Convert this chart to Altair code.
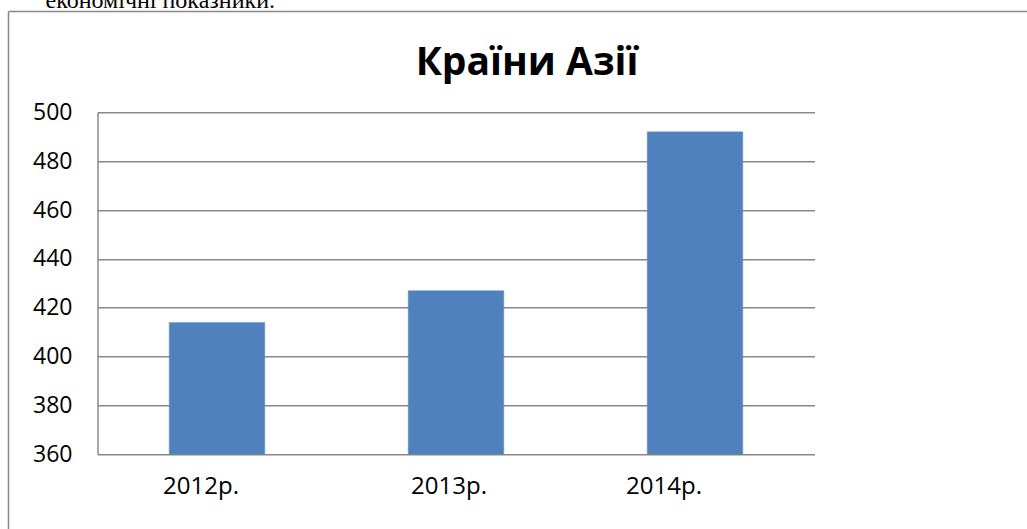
import altair as alt
import pandas as pd

years = ["2012р.", "2013р.", "2014р."]
values = [414, 427, 492]
title_text = "Країни Азії"
y_ticks = [360, 380, 400, 420, 440, 460, 480, 500]

df = pd.DataFrame({"year": years, "value": values})

W = 717
H = 342
PL = 97.5
PT = 112.3

label_offset = {
    "condition": [
        {"test": "datum.value == '2012р.'", "value": -16},
        {"test": "datum.value == '2013р.'", "value": -7},
    ],
    "value": -31,
}

bars = alt.Chart(df).mark_bar(color="#4F81BD", stroke="#6A93C8", strokeWidth=0.5, clip=True).encode(
    x=alt.X("year:N", sort=years, title=None,
            scale=alt.Scale(paddingInner=0.6, paddingOuter=0.3),
            axis=alt.Axis(labelAngle=0, labelFontSize=24, labelFont="Open Sans",
                          labelColor="#000000", ticks=False, domain=False,
                          labelPadding=20, labelOffset=label_offset)),
    y=alt.Y("value:Q", title=None,
            scale=alt.Scale(domain=[360, 500], nice=False, zero=False),
            axis=alt.Axis(values=y_ticks, labelFontSize=23, labelFont="Open Sans",
                          labelColor="#000000", ticks=False, domain=True,
                          domainColor="#888888", domainWidth=1.5,
                          gridColor="#888888", gridWidth=1.5, labelPadding=25.5)),
)

title = alt.Chart(pd.DataFrame({"t": [title_text]})).mark_text(
    font="Open Sans", fontSize=39, fontWeight="bold", color="#000000",
    align="center", baseline="alphabetic"
).encode(text="t:N", x=alt.value(527 - PL), y=alt.value(75 - PT))

toptext = alt.Chart(pd.DataFrame({"t": ["економічні показники."]})).mark_text(
    font="Liberation Serif", fontSize=24, color="#000000",
    align="right", baseline="alphabetic"
).encode(text="t:N", x=alt.value(275 - PL), y=alt.value(8 - PT))

frame_top = alt.Chart(pd.DataFrame({"a": [0]})).mark_rule(color="#888888", strokeWidth=1.5).encode(
    x=alt.value(8.5 - PL), x2=alt.value(1040 - PL), y=alt.value(11.5 - PT))
frame_left = alt.Chart(pd.DataFrame({"a": [0]})).mark_rule(color="#888888", strokeWidth=1.5).encode(
    x=alt.value(8.5 - PL), y=alt.value(11.5 - PT), y2=alt.value(540 - PT))

chart = alt.layer(bars, title, toptext, frame_top, frame_left).properties(
    width=W, height=H,
    autosize=alt.AutoSizeParams(type="none"),
    padding={"left": PL, "top": PT, "right": 1027 - PL - W, "bottom": 529 - PT - H},
    background="#ffffff",
).configure_view(stroke=None)

chart.save("out.html", embed_options={"renderer": "svg", "actions": False})
